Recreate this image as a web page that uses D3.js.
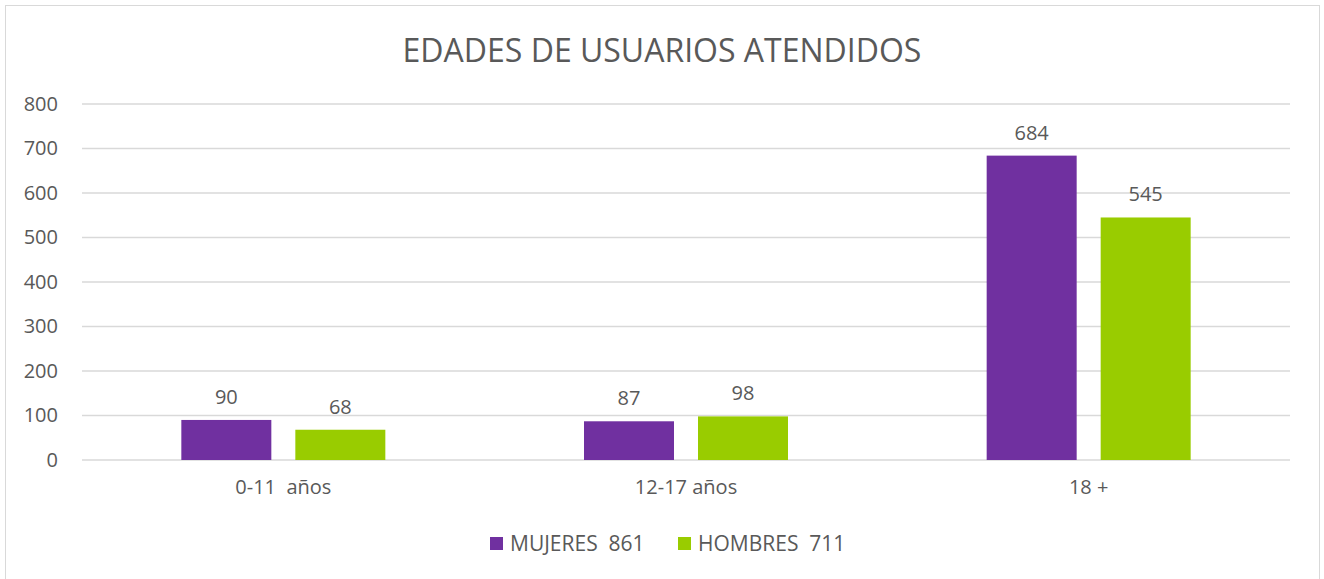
<!DOCTYPE html>
<html>
<head>
<meta charset="utf-8">
<script src="https://cdn.jsdelivr.net/npm/d3@7"></script>
<style>
  html, body { margin: 0; padding: 0; background: #fff; }
  svg { display: block; font-family: "Open Sans", "Liberation Sans", sans-serif; }
</style>
</head>
<body>
<svg id="chart" width="1324" height="579"></svg>
<script>
const categories = ["0-11  años", "12-17 años", "18 +"];
const seriesNames = ["MUJERES  861", "HOMBRES  711"];
const mujeres = [90, 87, 684];
const hombres = [68, 98, 545];
const yTicks = [0, 100, 200, 300, 400, 500, 600, 700, 800];
const colors = ["#7030A0", "#99CC00"];
const title = "EDADES DE USUARIOS ATENDIDOS";

const svg = d3.select("#chart");
const plot = { left: 82, right: 1290, top: 104, bottom: 460 };
const textColor = "#595959";

// chart frame
svg.append("rect")
  .attr("x", 5.5).attr("y", 5.5)
  .attr("width", 1314).attr("height", 590)
  .attr("fill", "#fff").attr("stroke", "#d9d9d9").attr("stroke-width", 1);

svg.append("text")
  .attr("x", 662).attr("y", 62)
  .attr("text-anchor", "middle")
  .attr("font-size", 32)
  .attr("fill", textColor)
  .text(title);

const x = d3.scaleBand().domain(categories).range([plot.left, plot.right]);
const y = d3.scaleLinear().domain([0, 800]).range([plot.bottom, plot.top]);

// gridlines
svg.append("g").selectAll("line").data(yTicks).join("line")
  .attr("x1", plot.left).attr("x2", plot.right)
  .attr("y1", d => y(d)).attr("y2", d => y(d))
  .attr("stroke", "#d9d9d9").attr("stroke-width", 1.3);

// y axis labels
const yAxis = d3.axisLeft(y).tickValues(yTicks).tickSize(0).tickPadding(0);
const gy = svg.append("g").attr("transform", "translate(58,0)").call(yAxis);
gy.select(".domain").remove();
gy.selectAll("text")
  .attr("font-size", 20).attr("fill", textColor)
  .attr("font-family", "'Open Sans', sans-serif");

// category labels
const xAxis = d3.axisBottom(x).tickSize(0).tickPadding(0);
const gx = svg.append("g").attr("transform", `translate(0,${plot.bottom + 20})`).call(xAxis);
gx.select(".domain").remove();
gx.selectAll("text")
  .attr("font-size", 20).attr("fill", textColor)
  .attr("font-family", "'Open Sans', sans-serif")
  .style("white-space", "pre");

const barW = 90, gap = 24;
const sub = d3.scaleOrdinal().domain([0, 1]).range([-(barW + gap) / 2, (barW + gap) / 2]);

const data = [];
categories.forEach((c, i) => {
  data.push({ cat: c, s: 0, v: mujeres[i] });
  data.push({ cat: c, s: 1, v: hombres[i] });
});

const bars = svg.append("g");
bars.selectAll("rect").data(data).join("rect")
  .attr("x", d => x(d.cat) + x.bandwidth() / 2 + sub(d.s) - barW / 2)
  .attr("y", d => y(d.v))
  .attr("width", barW)
  .attr("height", d => y(0) - y(d.v))
  .attr("fill", d => colors[d.s]);

bars.selectAll("text").data(data).join("text")
  .attr("x", d => x(d.cat) + x.bandwidth() / 2 + sub(d.s))
  .attr("y", d => y(d.v) - 16)
  .attr("text-anchor", "middle")
  .attr("font-size", 20)
  .attr("fill", textColor)
  .text(d => d.v);

// legend
const legend = svg.append("g");
const legendX = [490, 678];
seriesNames.forEach((name, i) => {
  legend.append("rect")
    .attr("x", legendX[i]).attr("y", 537)
    .attr("width", 13).attr("height", 13)
    .attr("fill", colors[i]);
  legend.append("text")
    .attr("x", legendX[i] + 20).attr("y", 551)
    .attr("font-size", 21)
    .attr("fill", textColor)
    .style("white-space", "pre")
    .text(name);
});
</script>
</body>
</html>
